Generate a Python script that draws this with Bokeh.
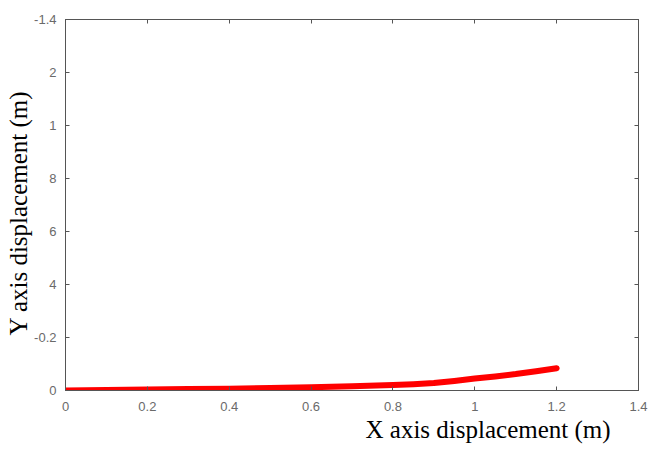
from bokeh.plotting import figure
from bokeh.models import Range1d, FixedTicker, LinearAxis, Title
from bokeh.embed import file_html
from bokeh.resources import INLINE

# data
x_disp = [0.0, 0.1, 0.2, 0.3, 0.4, 0.5, 0.6, 0.7, 0.8, 0.85, 0.9, 0.95, 1.0, 1.05, 1.1, 1.15, 1.2]
y_disp = [0.0, -0.002, -0.004, -0.006, -0.007, -0.009, -0.012, -0.016, -0.021, -0.024,
          -0.028, -0.036, -0.045, -0.053, -0.062, -0.073, -0.084]

x_ticks = [0, 0.2, 0.4, 0.6, 0.8, 1.0, 1.2, 1.4]
x_tick_labels = ["0", "0.2", "0.4", "0.6", "0.8", "1", "1.2", "1.4"]
y_ticks = [0, -0.2, -0.4, -0.6, -0.8, -1.0, -1.2, -1.4]
y_tick_labels = ["0", "-0.2", "4", "6", "8", "1", "2", "-1.4"]

AX = "#555555"
LBL = "#6a6a6a"

p = figure(width=648, height=448, output_backend="svg", toolbar_location=None,
           x_range=Range1d(0, 1.4), y_range=Range1d(0, -1.4),
           min_border_left=65, min_border_right=10, min_border_top=19, min_border_bottom=58)
p.background_fill_color = "white"
p.border_fill_color = "white"
p.outline_line_color = AX
p.outline_line_width = 1
p.grid.visible = False

p.line(x_disp, y_disp, line_color="#ff0000", line_width=6, line_cap="round", line_join="round")

p.xaxis.ticker = FixedTicker(ticks=x_ticks)
p.xaxis.major_label_overrides = {t: l for t, l in zip(x_ticks, x_tick_labels)}
p.yaxis.ticker = FixedTicker(ticks=y_ticks)
p.yaxis.major_label_overrides = {t: l for t, l in zip(y_ticks, y_tick_labels)}

for ax in (p.xaxis[0], p.yaxis[0]):
    ax.axis_line_color = AX
    ax.major_tick_line_color = AX
    ax.major_tick_in = 4
    ax.major_tick_out = 0
    ax.minor_tick_line_color = None
    ax.major_label_text_font = "Liberation Sans"
    ax.major_label_text_font_size = "13px"
    ax.major_label_text_color = LBL
    ax.major_label_standoff = 9
p.xaxis[0].major_label_standoff = 11

# mirrored ticks on the top and right
top = LinearAxis(ticker=FixedTicker(ticks=x_ticks),
                 major_label_overrides={t: "" for t in x_ticks})
right = LinearAxis(ticker=FixedTicker(ticks=y_ticks),
                   major_label_overrides={t: "" for t in y_ticks})
for ax in (top, right):
    ax.axis_line_color = AX
    ax.major_tick_line_color = AX
    ax.major_tick_in = 4
    ax.major_tick_out = 0
    ax.minor_tick_line_color = None
    ax.major_label_standoff = 0
    ax.major_label_text_font_size = "1px"
p.add_layout(top, "above")
p.add_layout(right, "right")

# axis titles
xt = Title(text="X axis displacement (m)", align="left", offset=300,
           text_font="Liberation Serif", text_font_size="25px", text_font_style="normal",
           text_color="#000000", standoff=1)
p.add_layout(xt, "below")
yt = Title(text="Y axis displacement (m)", align="left", offset=55,
           text_font="Liberation Serif", text_font_size="25px", text_font_style="normal",
           text_color="#000000", standoff=0)
p.add_layout(yt, "left")

open("out.html", "w").write(file_html(p, INLINE))
